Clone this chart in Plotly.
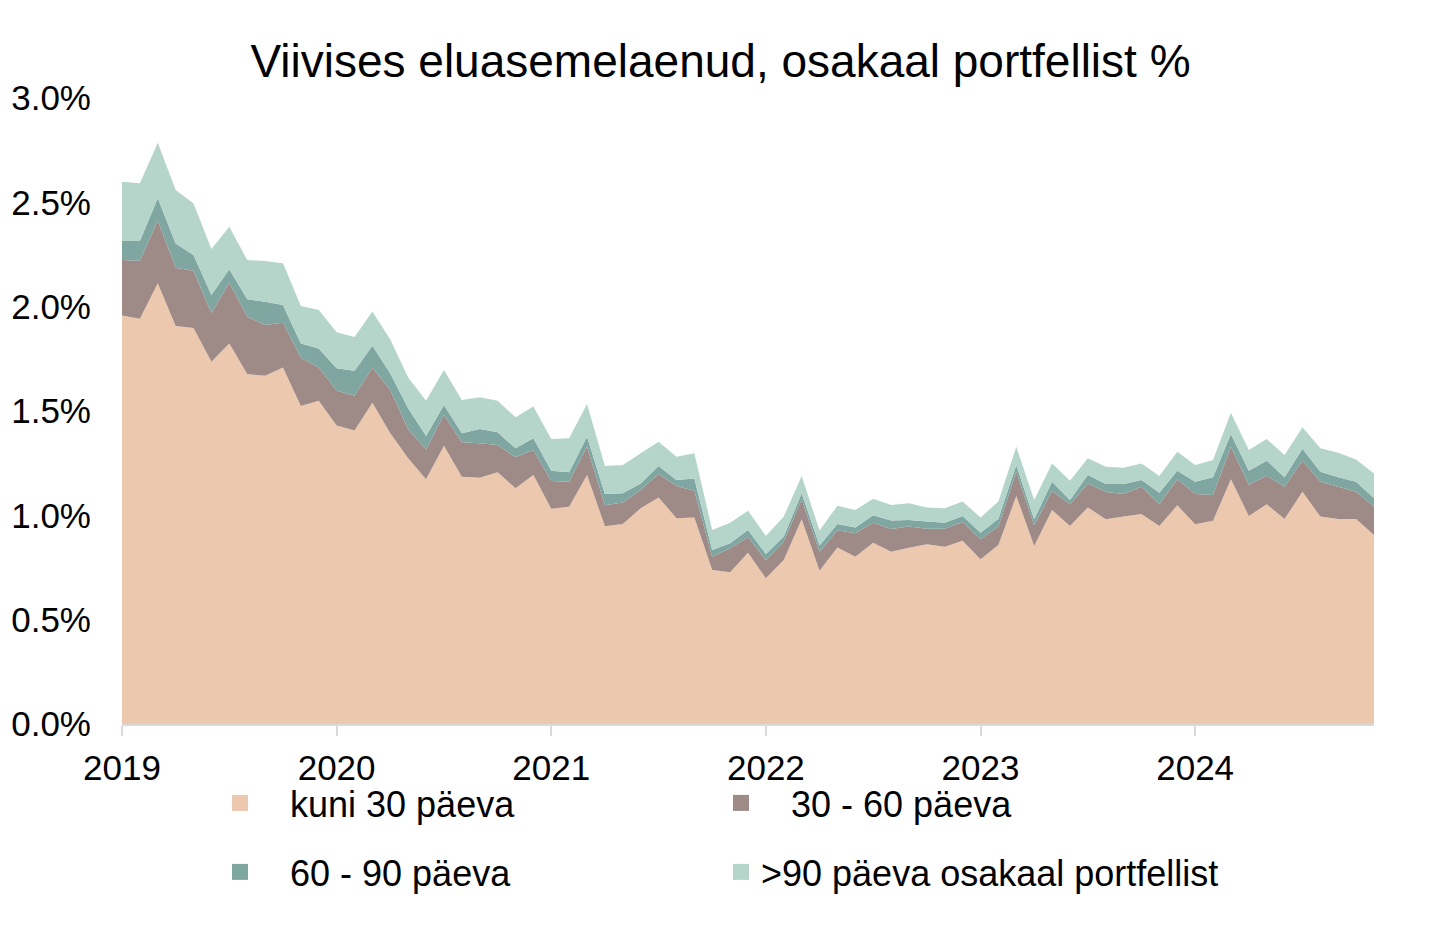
import plotly.graph_objects as go

# Monthly observations Jan 2019 .. Nov 2024
months = [f"{y}-{m:02d}" for y in range(2019, 2025) for m in range(1, 13)][:71]

year_ticks = ["2019-01", "2020-01", "2021-01", "2022-01", "2023-01", "2024-01"]
year_labels = ["2019", "2020", "2021", "2022", "2023", "2024"]

y_ticks = [0, 0.5, 1.0, 1.5, 2.0, 2.5, 3.0]
y_labels = ["0.0%", "0.5%", "1.0%", "1.5%", "2.0%", "2.5%", "3.0%"]

kuni_30 = [1.958, 1.942, 2.112, 1.907, 1.898, 1.736, 1.824, 1.677, 1.669, 1.708, 1.524, 1.549,
           1.431, 1.406, 1.540, 1.393, 1.273, 1.173, 1.334, 1.185, 1.180, 1.206, 1.130, 1.193,
           1.032, 1.041, 1.193, 0.948, 0.958, 1.034, 1.086, 0.986, 0.990, 0.738, 0.727, 0.821,
           0.698, 0.786, 0.981, 0.735, 0.846, 0.802, 0.869, 0.826, 0.845, 0.861, 0.850, 0.878,
           0.789, 0.858, 1.093, 0.853, 1.026, 0.949, 1.038, 0.981, 0.994, 1.006, 0.949, 1.048,
           0.957, 0.974, 1.173, 0.997, 1.053, 0.982, 1.113, 0.994, 0.982, 0.982, 0.906]
p30_60 = [0.266, 0.278, 0.300, 0.280, 0.274, 0.232, 0.291, 0.275, 0.243, 0.215, 0.231, 0.159,
          0.166, 0.167, 0.167, 0.208, 0.139, 0.143, 0.147, 0.165, 0.165, 0.131, 0.148, 0.120,
          0.132, 0.120, 0.136, 0.100, 0.103, 0.087, 0.112, 0.155, 0.128, 0.064, 0.115, 0.074,
          0.088, 0.088, 0.096, 0.089, 0.083, 0.112, 0.096, 0.108, 0.101, 0.075, 0.086, 0.090,
          0.096, 0.088, 0.116, 0.099, 0.092, 0.104, 0.115, 0.131, 0.108, 0.131, 0.104, 0.125,
          0.145, 0.123, 0.156, 0.150, 0.137, 0.155, 0.149, 0.167, 0.155, 0.131, 0.135]
p60_90 = [0.091, 0.095, 0.107, 0.116, 0.076, 0.088, 0.064, 0.083, 0.112, 0.085, 0.069, 0.092,
          0.108, 0.120, 0.106, 0.079, 0.101, 0.064, 0.048, 0.043, 0.069, 0.061, 0.043, 0.056,
          0.050, 0.045, 0.048, 0.054, 0.045, 0.032, 0.038, 0.028, 0.058, 0.032, 0.024, 0.035,
          0.029, 0.024, 0.029, 0.032, 0.029, 0.028, 0.035, 0.041, 0.032, 0.034, 0.029, 0.029,
          0.032, 0.038, 0.032, 0.029, 0.043, 0.020, 0.040, 0.038, 0.048, 0.032, 0.055, 0.041,
          0.059, 0.085, 0.061, 0.067, 0.072, 0.045, 0.057, 0.048, 0.045, 0.048, 0.041]
p90_plus = [0.284, 0.276, 0.267, 0.256, 0.247, 0.220, 0.204, 0.189, 0.195, 0.200, 0.179, 0.184,
            0.172, 0.162, 0.164, 0.163, 0.148, 0.169, 0.167, 0.160, 0.152, 0.151, 0.149, 0.152,
            0.152, 0.163, 0.157, 0.134, 0.135, 0.144, 0.117, 0.112, 0.121, 0.096, 0.099, 0.092,
            0.086, 0.096, 0.082, 0.071, 0.088, 0.084, 0.080, 0.074, 0.080, 0.068, 0.069, 0.069,
            0.073, 0.082, 0.088, 0.092, 0.088, 0.093, 0.080, 0.083, 0.078, 0.080, 0.080, 0.091,
            0.080, 0.083, 0.102, 0.099, 0.104, 0.107, 0.103, 0.112, 0.118, 0.107, 0.119]

series_names = ["kuni 30 päeva", "30 - 60 päeva", "60 - 90 päeva", ">90 päeva osakaal portfellist"]
legend_texts = ["\u00a0\u00a0\u00a0kuni 30 päeva", "\u00a0\u00a0\u00a030 - 60 päeva",
                "\u00a0\u00a0\u00a060 - 90 päeva", ">90 päeva osakaal portfellist"]
colors = ["#ECC8AF", "#9E8A87", "#80A6A2", "#B5D5CB"]
series = [kuni_30, p30_60, p60_90, p90_plus]

FONT = "Liberation Sans, Arial, sans-serif"

fig = go.Figure()
for name, vals, col in zip(series_names, series, colors):
    fig.add_trace(go.Scatter(
        x=months, y=vals, name=name, stackgroup="one", mode="none",
        fillcolor=col, showlegend=False,
    ))

legend_ids = ["legend", "legend2", "legend3", "legend4"]
for txt, col, lid in zip(legend_texts, colors, legend_ids):
    fig.add_trace(go.Scatter(
        x=[None], y=[None], mode="markers", name=txt,
        marker=dict(symbol="square", size=19, color=col),
        legend=lid, showlegend=True,
    ))

L, R, T, B = 122, 68, 98, 203
W, H = 1442, 927
pw = W - L - R
ph = H - T - B

def px_x(px):
    return (px - L) / pw

def px_y(py):
    return (H - B - py) / ph

leg_common = dict(font=dict(family=FONT, size=36, color="#000000"),
                  bgcolor="rgba(0,0,0,0)", borderwidth=0,
                  xanchor="left", yanchor="middle", itemclick=False)
col1_x, col2_x = 220, 721
row1_y, row2_y = 803, 872

fig.update_layout(
    width=W, height=H,
    margin=dict(l=L, r=R, t=T, b=B, pad=0),
    paper_bgcolor="white", plot_bgcolor="white",
    font=dict(family=FONT, size=35, color="#000000"),
    title=dict(text="Viivises eluasemelaenud, osakaal portfellist %",
               font=dict(family=FONT, size=46, color="#000000"),
               x=720.5 / W, xanchor="center", xref="container",
               y=1 - 61 / H, yanchor="middle", yref="container"),
    xaxis=dict(type="category", range=[0, 70], tickmode="array",
               tickvals=year_ticks, ticktext=year_labels,
               showgrid=False, zeroline=False,
               showline=True, linecolor="#D9D9D9", linewidth=2,
               ticks="outside", ticklen=10, tickwidth=1.5, tickcolor="#D9D9D9",
               ticklabelstandoff=2,
               tickfont=dict(family=FONT, size=35, color="#000000")),
    yaxis=dict(range=[0, 3.0], tickmode="array",
               tickvals=y_ticks, ticktext=y_labels,
               showgrid=False, zeroline=False, showline=False, ticks="",
               ticklabelstandoff=30,
               tickfont=dict(family=FONT, size=35, color="#000000")),
    legend=dict(x=px_x(col1_x), y=px_y(row1_y), **leg_common),
    legend2=dict(x=px_x(col2_x), y=px_y(row1_y), **leg_common),
    legend3=dict(x=px_x(col1_x), y=px_y(row2_y), **leg_common),
    legend4=dict(x=px_x(col2_x), y=px_y(row2_y), **leg_common),
)

fig.write_html("out.html")
